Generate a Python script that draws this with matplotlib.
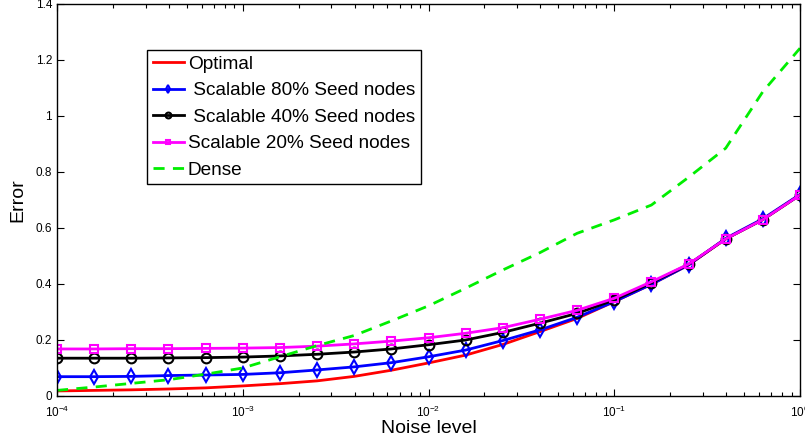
import matplotlib

matplotlib.use("Agg")

import matplotlib.pyplot as plt
from matplotlib.ticker import LogLocator, FixedLocator

plt.rcParams["font.family"] = ["Liberation Sans", "DejaVu Sans"]

# noise levels, 5 per decade from 1e-4 to 1
noise = [10 ** (k / 5) for k in range(-20, 1)]

optimal = [0.018, 0.020, 0.022, 0.025, 0.029, 0.036, 0.044, 0.054, 0.070, 0.092,
           0.118, 0.146, 0.184, 0.230, 0.277, 0.337, 0.399, 0.468, 0.561, 0.630, 0.718]
scal80 = [0.069, 0.069, 0.070, 0.073, 0.075, 0.077, 0.083, 0.093, 0.104, 0.119,
          0.140, 0.164, 0.198, 0.236, 0.281, 0.337, 0.399, 0.468, 0.563, 0.633, 0.720]
scal40 = [0.135, 0.135, 0.135, 0.136, 0.137, 0.139, 0.143, 0.149, 0.157, 0.168,
          0.183, 0.200, 0.227, 0.260, 0.295, 0.343, 0.404, 0.470, 0.561, 0.630, 0.718]
scal20 = [0.168, 0.168, 0.169, 0.169, 0.170, 0.171, 0.173, 0.178, 0.186, 0.196,
          0.208, 0.224, 0.244, 0.274, 0.306, 0.349, 0.408, 0.471, 0.561, 0.630, 0.718]
dense = [0.020, 0.032, 0.045, 0.058, 0.078, 0.100, 0.140, 0.180, 0.216, 0.268,
         0.322, 0.385, 0.450, 0.512, 0.581, 0.629, 0.682, 0.781, 0.885, 1.087, 1.242]

fig = plt.figure(figsize=(8.05, 4.38), dpi=100)
ax = fig.add_axes([0.0708, 0.0959, 0.923, 0.895])

ax.plot(noise, optimal, color="#ff0000", lw=2, label="Optimal")
ax.plot(noise, scal80, color="#0000ff", lw=2, marker="d", ms=7, mfc="none", mew=1.5,
        label=" Scalable 80% Seed nodes")
ax.plot(noise, scal40, color="black", lw=2, marker="o", ms=7, mfc="none", mew=1.5,
        label=" Scalable 40% Seed nodes")
ax.plot(noise, scal20, color="#ff00ff", lw=2, marker="s", ms=6, mfc="none", mew=1.5,
        label="Scalable 20% Seed nodes")
ax.plot(noise, dense, color="#00ee00", lw=2, ls=(0, (4, 3)), label="Dense")

ax.set_xscale("log")
ax.set_xlim(1e-4, 1)
ax.set_ylim(0, 1.4)
ax.yaxis.set_major_locator(FixedLocator([0, 0.2, 0.4, 0.6, 0.8, 1, 1.2, 1.4]))
ax.set_yticklabels(["0", "0.2", "0.4", "0.6", "0.8", "1", "1.2", "1.4"])
ax.xaxis.set_major_locator(LogLocator(base=10, numticks=10))
ax.xaxis.set_minor_locator(LogLocator(base=10, subs=range(2, 10), numticks=20))

ax.tick_params(which="both", direction="in", top=True, right=True, labelsize=8.5)
ax.tick_params(which="major", length=5, width=0.8)
ax.tick_params(which="minor", length=3, width=0.8)
ax.tick_params(axis="x", pad=6)
for s in ax.spines.values():
    s.set_linewidth(1)

ax.set_xlabel("Noise level", fontsize=14, labelpad=0)
ax.set_ylabel("Error", fontsize=14, labelpad=7)

leg = ax.legend(loc="upper left", bbox_to_anchor=(0.121, 0.883), borderaxespad=0,
                fontsize=13.7, fancybox=False, framealpha=1, edgecolor="black",
                markerscale=0.6, handlelength=1.65, handletextpad=0.2,
                labelspacing=0.48, borderpad=0.3)
leg.get_frame().set_linewidth(1)

fig.savefig("out.png", dpi=100)
